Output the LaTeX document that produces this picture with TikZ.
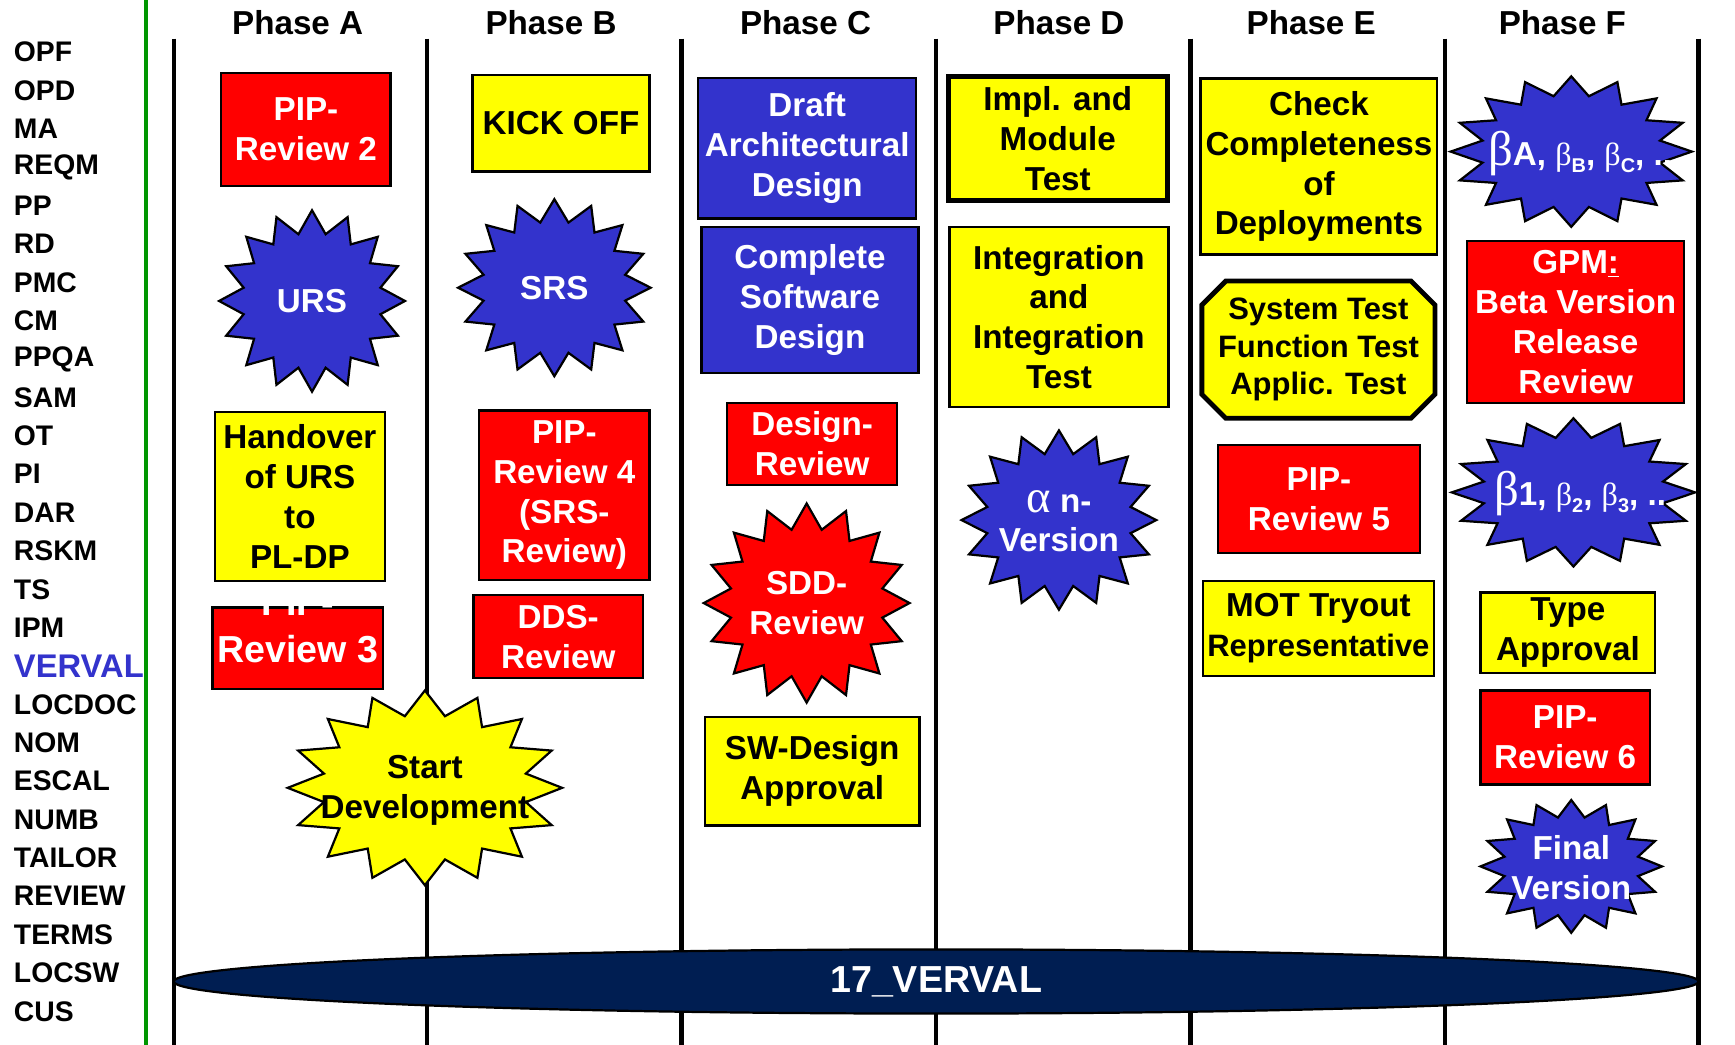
\documentclass[tikz,border=0pt]{standalone}
\usepackage{fontspec}
\setmainfont{Liberation Sans}
\newfontfamily\greekfont{Liberation Serif}
\usetikzlibrary{shapes.misc}
\definecolor{pipRed}{RGB}{255,0,0}
\definecolor{taskYellow}{RGB}{255,255,0}
\definecolor{phaseBlue}{RGB}{51,51,204}
\definecolor{vervalNavy}{RGB}{0,30,82}
\definecolor{laneGreen}{RGB}{0,150,0}
\tikzset{every picture/.style={semithick}}
\tikzstyle{block}=[draw,line width=1pt,inner sep=0pt,align=center,font=\bfseries\fontsize{15}{18}\selectfont]
\tikzstyle{review}=[block,fill=pipRed,text=white]
\tikzstyle{task}=[block,fill=taskYellow]
\tikzstyle{design}=[block,fill=phaseBlue,text=white]
\tikzstyle{burst}=[draw,line width=1pt,line join=miter]
\tikzstyle{burstlabel}=[inner sep=0pt,align=center,text=white,font=\bfseries\fontsize{15}{18}\selectfont]
\tikzstyle{lane}=[line width=2pt]
\tikzstyle{area}=[anchor=west,inner sep=0pt,font=\bfseries\fontsize{12.8}{14}\selectfont]
\tikzset{area VERVAL/.style={text=phaseBlue,font=\bfseries\fontsize{14.8}{16}\selectfont}}
\tikzset{wh/.style 2 args={minimum width={#1*0.5pt},minimum height={#2*0.5pt}}}
% 16-point starburst: centre, x radius, y radius, fill
\newcommand{\starburst}[4]{\draw[burst,fill=#4,shift={#1}] plot[samples at={0,...,32},variable=\k]
  ({#2*(1-0.25*isodd(\k))*sin(11.25*\k)},{#3*(1-0.25*isodd(\k))*cos(11.25*\k)}) -- cycle;}
\newcommand{\gbig}{{\greekfont\mdseries\fontsize{22}{18}\selectfont β}}
\newcommand{\gsmall}{{\greekfont\mdseries\fontsize{14.5}{16}\selectfont β}}
\newcommand{\lowidx}[1]{\raisebox{-3pt}{\fontsize{9}{10}\selectfont #1}}
\newcommand{\ga}{{\greekfont\mdseries\fontsize{21}{18}\selectfont α}}

\begin{document}
\begin{tikzpicture}[x=0.5pt,y=-0.5pt]
        \useasboundingbox (0,0) rectangle (1568,944);
        \draw[lane,laneGreen] (132,0) -- (132,944);
        \foreach \x in {157,386,616,846,1076,1306,1535}
                \draw[lane] (\x,35) -- (\x,944);
        \foreach \name/\x in {A/269,B/498,C/728,D/957,E/1185,F/1412}
                \node[font=\bfseries\fontsize{15}{18}\selectfont] (phase\name) at (\x,20) {Phase \name};
        \foreach \lab [count=\i from 0] in {OPF,OPD,MA,REQM,PP,RD,PMC,CM,PPQA,SAM,OT,PI,DAR,RSKM,TS,IPM,VERVAL,LOCDOC,NOM,ESCAL,NUMB,TAILOR,REVIEW,TERMS,LOCSW,CUS}
                \node[area,area \lab/.try] (pa\i) at (12,47+34.68*\i) {\lab};
        % Phase A
        \node[review,wh={153}{102}] (pipTwo) at (276.5,117) {PIP-\\Review 2};
        \starburst{(282,272)}{84}{82}{phaseBlue}
        \node[burstlabel] (urs) at (282,272) {URS};
        \node[task,wh={154}{153}] (handover) at (271,448.5) {Handover\\of URS\\to\\PL-DP};
        \node[review,wh={154}{74}] (pipThree) at (269,586) {};
        \node[burstlabel,font=\bfseries\fontsize{17}{21}\selectfont] (pipThreeText) at (269,566) {PIP-\\Review 3};
        \starburst{(384,712)}{124}{88}{taskYellow}
        \node[burstlabel,text=black] (startDev) at (384,714) {Start\\Development};
        % Phase B
        \node[task,wh={160}{87}] (kickOff) at (507,111.5) {KICK OFF};
        \starburst{(501,260)}{87}{80}{phaseBlue}
        \node[burstlabel] (srs) at (501,260) {SRS};
        \node[review,wh={154}{153}] (pipFour) at (510,447.5) {PIP-\\Review 4\\(SRS-\\Review)};
        \node[review,wh={153}{75}] (dds) at (504.5,575.5) {DDS-\\Review};
        % Phase C
        \node[design,wh={197}{127}] (draft) at (729.5,134) {Draft\\Architectural\\Design};
        \node[design,wh={196}{132}] (complete) at (732,271) {Complete\\Software\\Design};
        \node[review,wh={154}{74}] (designRev) at (734,401) {Design-\\Review};
        \starburst{(729,545)}{93}{90}{pipRed}
        \node[burstlabel] (sdd) at (729,545) {SDD-\\Review};
        \node[task,wh={194}{98}] (swApproval) at (734,697) {SW-Design\\Approval};
        % Phase D
        \node[task,line width=2.2pt,wh={198}{112}] (impl) at (956,125) {Impl. and\\Module\\Test};
        \node[task,wh={198}{163}] (integration) at (957,286.5) {Integration\\and\\Integration\\Test};
        \starburst{(957,470)}{88}{81}{phaseBlue}
        \node[burstlabel] (alphaN) at (957,471) {\ga\ n-\\Version};
        % Phase E
        \node[task,wh={214}{159}] (check) at (1192,150.5) {Check\\Completeness\\of\\Deployments};
        \node[task,chamfered rectangle,chamfered rectangle xsep=7.3pt,line width=2.2pt,wh={200}{124},
                font=\bfseries\fontsize{14}{17}\selectfont] (sysTest) at (1191.5,316) {System Test\\Function Test\\Applic. Test};
        \node[review,wh={182}{98}] (pipFive) at (1192,451) {PIP-\\Review 5};
        \node[task,wh={209}{86}] (mot) at (1191.5,568) {MOT Tryout\\{\fontsize{14}{17}\selectfont Representative}};
        % Phase F
        \starburst{(1420,137)}{109}{68}{phaseBlue}
        \node[burstlabel] (betaABC) at (1428,139) {\gbig A, \gsmall\lowidx{B}, \gsmall\lowidx{C}, ..};
        \node[review,wh={196}{146}] (gpm) at (1424,291) {GPM\underline{:}\\Beta Version\\Release\\Review};
        \starburst{(1422,445)}{110}{67}{phaseBlue}
        \node[burstlabel] (betaOne) at (1428,446) {\gbig 1, \gsmall\lowidx{2}, \gsmall\lowidx{3}, ..};
        \node[task,wh={158}{73}] (typeApproval) at (1417,572) {Type\\Approval};
        \node[review,wh={153}{85}] (pipSix) at (1414.5,666.5) {PIP-\\Review 6};
        \starburst{(1420,783)}{82}{60}{phaseBlue}
        \node[burstlabel] (finalVersion) at (1420,784) {Final\\Version};
        % VERVAL bar
        \draw[fill=vervalNavy,line width=1pt] (846,887) ellipse [x radius=689,y radius=29];
        \node[text=white,font=\bfseries\fontsize{17}{20}\selectfont] (verval) at (846,887) {17\_VERVAL};
\end{tikzpicture}
\end{document}
